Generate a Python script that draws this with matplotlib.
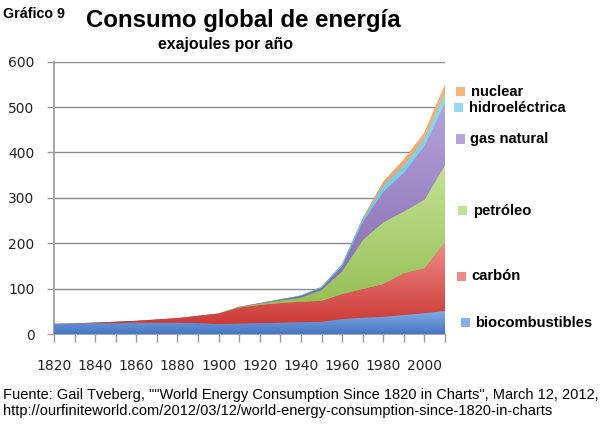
import numpy as np
import matplotlib
matplotlib.use("Agg")
import matplotlib.pyplot as plt
from matplotlib.colors import LinearSegmentedColormap

years = [1820, 1830, 1840, 1850, 1860, 1870, 1880, 1890, 1900, 1910,
         1920, 1930, 1940, 1950, 1960, 1970, 1980, 1990, 2000, 2010]
biocombustibles = [22, 23, 24, 24, 25, 25, 25, 24, 22, 23, 24, 25, 26, 27, 33, 36, 38, 42, 46, 51]
carbon = [0.5, 0.5, 1, 3, 4, 7, 10, 16, 23, 35, 40, 43, 45, 46, 55, 63, 72, 92, 99, 151]
petroleo = [0, 0, 0, 0, 0, 0, 0, 0, 0.5, 1.5, 3, 6, 9, 24, 50, 108, 136, 136, 151, 170]
gas_natural = [0, 0, 0, 0, 0, 0, 0, 0, 0, 0.5, 1, 2, 4, 5, 11, 39, 67, 85, 118, 136]
hidroelectrica = [0, 0, 0, 0, 0, 0, 0, 0, 0, 0, 0, 0.5, 1, 2, 5, 8, 14, 17, 17, 23]
nuclear = [0, 0, 0, 0, 0, 0, 0, 0, 0, 0, 0, 0, 0, 0, 0, 1, 8, 12, 12, 18]

series_names = ["biocombustibles", "carbón", "petróleo", "gas natural", "hidroeléctrica", "nuclear"]
series_values = [biocombustibles, carbon, petroleo, gas_natural, hidroelectrica, nuclear]
# (bottom colour, top colour)
series_colors = [("#4676C2", "#86AEE6"), ("#C8302C", "#EF8C8A"), ("#8CB84A", "#C4E193"),
                 ("#7A5EA6", "#B6A3DB"), ("#4DB6D6", "#92DAEE"), ("#EE8A3E", "#F8B57A")]
legend_y = [322.7, 276, 211, 139, 108, 92]
legend_x = [475.5, 471.5, 473, 470.5, 469, 470.5]

y_ticks = [0, 100, 200, 300, 400, 500, 600]
x_label_years = list(range(1820, 2001, 20))

W, H = 611, 436
fig = plt.figure(figsize=(W / 100, H / 100), dpi=100)
fig.patch.set_facecolor("white")

def fx(px):
    return px / W

def fy(py):
    return 1 - py / H

ax_l, ax_r, ax_t, ax_b = 54, 445, 61.6, 334
ax = fig.add_axes([fx(ax_l), fy(ax_b), (ax_r - ax_l) / W, (ax_b - ax_t) / H])

x = np.array(years, dtype=float)
base = np.zeros(len(years))
for vals, (c0, c1) in zip(series_values, series_colors):
    top = base + np.array(vals, dtype=float)
    poly = ax.fill_between(x, base, top, facecolor=c0, edgecolor="none", linewidth=0, zorder=2)
    cmap = LinearSegmentedColormap.from_list("g", [c0, c1])
    grad = np.linspace(0, 1, 256).reshape(-1, 1)
    ymax = max(top.max(), 1)
    im = ax.imshow(grad, cmap=cmap, origin="lower", aspect="auto",
                   extent=[x[0], x[-1], 0, ymax], zorder=3, interpolation="bilinear")
    im.set_clip_path(poly.get_paths()[0], transform=ax.transData)
    base = top

ax.set_xlim(1820, 2010)
ax.set_ylim(0, 600)
ax.set_yticks(y_ticks)
ax.set_yticklabels([str(v) for v in y_ticks], fontsize=10, family="DejaVu Sans", color="#222222")
ax.set_xticks(list(range(1820, 2011, 10)))
ax.set_xticklabels([str(y) if y in x_label_years else "" for y in range(1820, 2011, 10)],
                   fontsize=10, family="DejaVu Sans", color="#222222")
ax.tick_params(axis="x", length=6, width=1, color="#999999", pad=12)
ax.tick_params(axis="y", length=5, width=1, color="#999999", pad=9)
for s in ["top", "right"]:
    ax.spines[s].set_visible(False)
for s in ["left", "bottom"]:
    ax.spines[s].set_color("#A0A0A0")
    ax.spines[s].set_linewidth(1.3)
ax.grid(axis="y", color="#8A8A8A", linewidth=1)
ax.set_axisbelow(True)
ax.set_facecolor("white")

# Titles
fig.text(fx(3), fy(14), "Gráfico 9", fontsize=10.3, fontweight="bold", family="Liberation Sans",
         ha="left", va="center")
fig.text(fx(243), fy(20), "Consumo global de energía", fontsize=17.3, fontweight="bold",
         family="Liberation Sans", ha="center", va="center")
fig.text(fx(225), fy(44), "exajoules por año", fontsize=11.4, fontweight="bold",
         family="Liberation Sans", ha="center", va="center")

# Legend
for name, (c0, c1), ly, lx in zip(series_names, series_colors, legend_y, legend_x):
    fig.patches.append(plt.Rectangle((fx(lx - 15), fy(ly + 4.5)), 9 / W, 9 / H, transform=fig.transFigure,
                                     facecolor=c1, edgecolor="none"))
    fig.text(fx(lx), fy(ly), name, fontsize=10.6, fontweight="bold", family="Liberation Sans",
             ha="left", va="center")

fig.text(fx(3), fy(395), "Fuente: Gail Tveberg, \"\"World Energy Consumption Since 1820 in Charts\", March 12, 2012,",
         fontsize=10.5, family="Liberation Sans", ha="left", va="center")
fig.text(fx(3), fy(411), "http://ourfiniteworld.com/2012/03/12/world-energy-consumption-since-1820-in-charts",
         fontsize=10.5, family="Liberation Sans", ha="left", va="center")

fig.savefig("out.png", dpi=100, facecolor="white")
